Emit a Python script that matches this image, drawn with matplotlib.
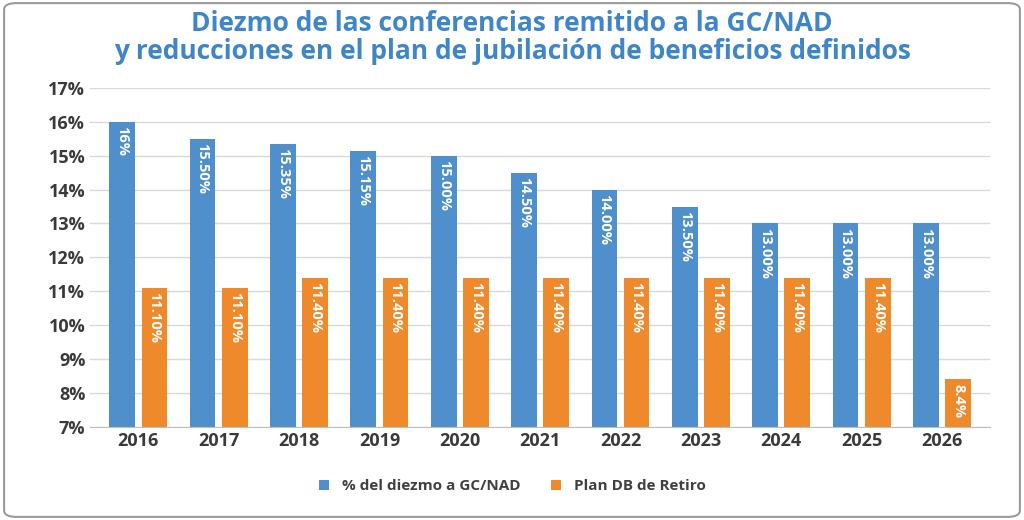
import matplotlib.pyplot as plt
from matplotlib.patches import FancyBboxPatch
import numpy as np

years = ['2016', '2017', '2018', '2019', '2020', '2021', '2022', '2023', '2024', '2025', '2026']
tithe = [16.0, 15.5, 15.35, 15.15, 15.0, 14.5, 14.0, 13.5, 13.0, 13.0, 13.0]
tithe_labels = ['16%', '15.50%', '15.35%', '15.15%', '15.00%', '14.50%', '14.00%', '13.50%', '13.00%', '13.00%', '13.00%']
plan = [11.1, 11.1, 11.4, 11.4, 11.4, 11.4, 11.4, 11.4, 11.4, 11.4, 8.4]
plan_labels = ['11.10%', '11.10%', '11.40%', '11.40%', '11.40%', '11.40%', '11.40%', '11.40%', '11.40%', '11.40%', '8.4%']

blue = '#4f8fcb'
orange = '#ee8a2c'
plt.rcParams['font.family'] = ['Open Sans', 'DejaVu Sans']

fig = plt.figure(figsize=(10.24, 5.2), dpi=100)
fig.patches.append(FancyBboxPatch((0.004, 0.006), 0.992, 0.988, boxstyle='round,pad=0,rounding_size=0.012',
                                  transform=fig.transFigure, fc='none', ec='#9a9a9a', lw=1.5, zorder=10))
ax = fig.add_axes([0.088, 0.179, 0.879, 0.652])
ax.set_facecolor('none')

x = np.arange(len(years))
w = 0.32
ax.bar(x - 0.2, tithe, w, color=blue, label='% del diezmo a GC/NAD', zorder=2)
ax.bar(x + 0.2, plan, w, color=orange, label='Plan DB de Retiro', zorder=2)
for i in range(len(years)):
    ax.text(x[i] - 0.2, tithe[i] - 0.12, tithe_labels[i], rotation=-90, ha='center', va='top',
            color='white', fontsize=10.5, fontweight='bold', zorder=3)
    ax.text(x[i] + 0.2, plan[i] - 0.12, plan_labels[i], rotation=-90, ha='center', va='top',
            color='white', fontsize=10.5, fontweight='bold', zorder=3)

ax.set_ylim(7, 17)
ax.set_xlim(-0.6, len(years) - 0.4)
ax.set_yticks(range(7, 18))
ax.set_yticklabels([f'{v}%' for v in range(7, 18)])
ax.set_xticks(x)
ax.set_xticklabels(years)
ax.tick_params(axis='both', length=0, labelsize=13, colors='#3a3a3a')
for t in ax.get_xticklabels() + ax.get_yticklabels():
    t.set_fontweight('bold')
ax.grid(axis='y', color='#d9d9d9', lw=1, zorder=0)
for s in ['top', 'right', 'left']:
    ax.spines[s].set_visible(False)
ax.spines['bottom'].set_color('#bfbfbf')

fig.text(0.5, 0.98, 'Diezmo de las conferencias remitido a la GC/NAD\ny reducciones en el plan de jubilación de beneficios definidos',
         ha='center', va='top', fontsize=19, fontweight='bold', color='#3f86c8', linespacing=1.05)
leg = fig.legend(loc='lower center', bbox_to_anchor=(0.5, 0.025), ncol=2, frameon=False,
                 handlelength=0.7, handleheight=0.7, prop={'weight': 'bold', 'size': 11})
for t in leg.get_texts():
    t.set_color('#404040')

fig.savefig('out.png', dpi=100)
